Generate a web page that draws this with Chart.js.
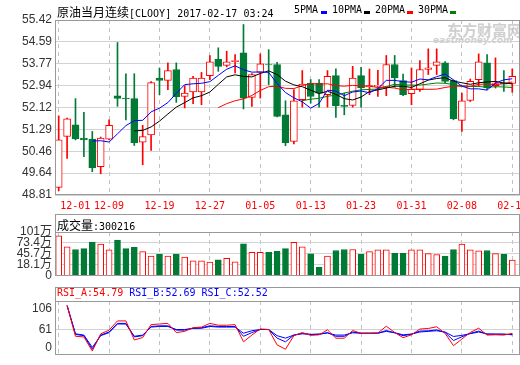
<!DOCTYPE html>
<html>
<head>
<meta charset="utf-8">
<script src="https://cdn.jsdelivr.net/npm/chart.js@4.4.0/dist/chart.umd.min.js"></script>
<style>
body { margin: 0; background: #fff; }
#wrap { position: relative; width: 520px; height: 365px; overflow: hidden; background: #fff; }
canvas { position: absolute; left: 0; }
.t { position: absolute; white-space: pre; line-height: 14px; color: #000; }
.cjk { font: 12px "Noto Sans CJK SC", sans-serif; }
.mono { font: 10px "DejaVu Sans Mono", monospace; }
.box { position: absolute; left: 55px; width: 465px; border: 1px solid #999; border-bottom: none; box-sizing: border-box; }
.mk { position: absolute; width: 6px; height: 3px; top: 11px; }
.wm { position: absolute; color: #cfcfcf; font-weight: bold; white-space: nowrap; }
</style>
</head>
<body>
<div id="wrap">
  <div class="wm" style="left:447px;top:19px;font:bold 15px 'Noto Sans CJK SC';color:#cfcfcf;">东方财富网</div>
  <div class="wm" style="left:433px;top:35px;font:italic bold 9px 'DejaVu Sans';color:#cfcfcf;">eastmoney.com</div>

  <canvas id="main" width="520" height="213" style="top:0"></canvas>
  <canvas id="vol" width="520" height="72" style="top:214px"></canvas>
  <canvas id="rsi" width="520" height="80" style="top:285px"></canvas>

  <div class="t" style="left:57px;top:3px;"><span class="cjk">原油当月连续</span><span class="mono">[CLOOY] 2017-02-17 03:24</span></div>
  <div class="t mono" style="left:294px;top:4px;">5PMA</div><div class="mk" style="left:321px;background:#0000ff"></div>
  <div class="t mono" style="left:332px;top:4px;">10PMA</div><div class="mk" style="left:364px;background:#000"></div>
  <div class="t mono" style="left:375px;top:4px;">20PMA</div><div class="mk" style="left:407px;background:#ff0000"></div>
  <div class="t mono" style="left:418px;top:4px;">30PMA</div><div class="mk" style="left:450px;background:#008000"></div>

  <div class="box" style="top:214px;height:18px;"></div>
  <div class="t" style="left:57px;top:216px;"><span class="cjk">成交量</span><span class="mono">:300216</span></div>

  <div class="box" style="top:287px;height:14px;"></div>
  <div class="t mono" style="left:57px;top:287px;"><span style="color:#ff0000">RSI_A:54.79</span> <span style="color:#0000ff">RSI_B:52.69</span> <span style="color:#0000ff">RSI_C:52.52</span></div>
</div>

<script>
// trading days
const dates = ['12-01','12-02','12-05','12-06','12-07','12-08','12-09','12-12','12-13','12-14',
  '12-15','12-16','12-19','12-20','12-21','12-22','12-23','12-26','12-27','12-28',
  '12-29','12-30','01-03','01-04','01-05','01-06','01-09','01-10','01-11','01-12',
  '01-13','01-16','01-17','01-18','01-19','01-20','01-23','01-24','01-25','01-26',
  '01-27','01-30','01-31','02-01','02-02','02-03','02-06','02-07','02-08','02-09',
  '02-10','02-13','02-14','02-15','02-16'];
const xTicks = [0, 6, 12, 18, 24, 30, 36, 42, 48, 54];

// candles
const opens = [49.10,51.02,51.46,50.96,50.92,49.88,50.92,52.56,52.47,52.45,
  50.81,51.08,53.23,53.14,53.55,52.53,52.70,52.70,53.32,53.93,
  53.70,53.85,54.18,52.50,53.44,53.74,53.74,51.84,50.83,52.41,
  53.04,53.04,52.60,53.32,52.20,52.19,53.32,52.89,52.91,52.88,
  53.74,53.13,52.64,52.79,53.55,53.70,53.80,53.13,51.63,52.38,
  53.17,53.80,52.94,53.04,53.02];
const closes = [50.89,51.69,50.93,50.89,49.84,50.96,51.44,52.46,52.44,50.79,
  51.02,53.06,53.14,53.51,52.51,52.66,53.23,53.23,53.84,53.67,
  53.84,53.89,52.47,53.36,53.76,53.72,51.78,50.79,52.37,53.00,
  52.53,52.66,53.29,52.18,52.16,53.23,52.85,52.94,52.95,53.74,
  53.23,52.60,52.81,53.55,53.61,53.84,53.10,51.69,52.37,53.10,
  53.84,52.85,53.02,53.00,53.29];
const highs = [51.80,51.72,52.45,51.93,51.21,51.00,51.65,54.57,53.39,53.39,
  51.44,53.09,53.61,53.80,53.80,52.94,53.29,53.44,54.08,54.37,
  54.24,54.11,55.25,53.40,54.14,54.30,53.82,52.37,52.79,53.51,
  53.17,53.17,53.51,53.58,52.66,53.67,53.63,53.57,53.52,54.08,
  54.08,53.38,53.61,53.89,54.33,54.33,53.85,53.15,52.66,53.19,
  54.14,54.11,53.99,53.51,53.57];
const lows = [48.97,50.19,50.89,50.26,49.69,49.61,50.90,52.16,51.65,50.68,
  49.95,50.49,52.60,52.79,52.31,52.10,52.26,52.22,53.17,53.48,
  53.65,53.42,52.06,52.16,52.47,52.98,51.76,50.67,50.74,52.13,
  52.28,52.13,52.13,51.74,51.84,52.13,52.13,52.60,52.53,52.56,
  52.88,52.56,52.22,52.72,53.36,53.36,53.04,51.65,51.21,52.34,
  52.91,52.79,52.85,52.72,52.69];

// moving averages
const ma5 = [null,null,null,null,50.85,50.86,50.81,51.12,51.43,51.62,
  51.63,51.95,52.09,52.30,52.65,52.98,53.01,53.03,53.09,53.33,
  53.56,53.69,53.54,53.45,53.46,53.44,53.02,52.68,52.48,52.33,
  52.09,52.27,52.77,52.73,52.56,52.70,52.74,52.67,52.83,53.14,
  53.14,53.09,53.07,53.19,53.16,53.28,53.38,53.16,52.92,52.82,
  52.82,52.77,53.04,53.16,53.20];
const ma10 = [null,null,null,null,null,null,null,null,null,51.23,
  51.25,51.38,51.60,51.87,52.13,52.30,52.48,52.56,52.70,52.99,
  53.27,53.35,53.29,53.27,53.40,53.50,53.36,53.11,52.97,52.90,
  52.77,52.64,52.73,52.61,52.45,52.40,52.51,52.72,52.78,52.85,
  52.92,52.92,52.87,53.01,53.15,53.21,53.24,53.11,53.05,52.99,
  53.05,53.08,53.10,53.04,53.01];
const ma20 = [null,null,null,null,null,null,null,null,null,null,
  null,null,null,null,null,null,null,null,null,52.11,
  52.26,52.37,52.44,52.57,52.76,52.90,52.92,52.84,52.83,52.94,
  53.02,53.00,53.01,52.94,52.92,52.95,52.93,52.92,52.87,52.88,
  52.85,52.78,52.80,52.81,52.80,52.81,52.87,52.92,52.92,52.92,
  52.99,53.00,52.98,53.02,53.08];
const ma30 = [null,null,null,null,null,null,null,null,null,null,
  null,null,null,null,null,null,null,null,null,null,
  null,null,null,null,null,null,null,null,null,52.37,
  52.43,52.46,52.54,52.58,52.66,52.73,52.78,52.80,52.81,52.91,
  52.99,52.97,52.96,52.96,53.00,53.04,53.03,52.98,52.93,52.91,
  52.91,52.88,52.90,52.89,52.87];
const priceTicks = [48.81, 49.64, 50.46, 51.29, 52.12, 52.94, 53.77, 54.59, 55.42];

// volume, in 万
const volumes = [91.5,63.9,56.8,59.2,75.7,70.3,56.1,80.4,59.2,62.2,
  51.4,40.2,45.0,40.2,45.0,37.9,28.4,28.4,25.3,30.8,
  34.8,26.1,71.0,49.7,49.7,49.7,52.1,59.2,75.0,63.9,
  45.7,11.9,40.2,54.4,56.8,56.8,45.0,51.4,56.1,56.1,
  47.3,47.3,56.1,56.1,46.6,44.3,40.2,56.8,70.3,56.1,
  53.7,54.4,46.6,45.0,30.02];
const volTickValues = [-9.4, 18.1, 45.7, 73.4, 101];
const volTickLabels = ['0', '18.1万', '45.7万', '73.4万', '101万'];

// RSI
const rsiA = [null,100,50,49,26,54,60,75,75,44,
  48,69,70,71,56,58,64,65,71,68,
  68,69,41,52,62,61,36,29,51,56,
  51.5,52.4,60.4,46.9,46.9,59.4,54.8,54.8,55.3,66.4,
  56.2,47.8,52.4,61.8,62.7,65.5,54.8,34.7,45.5,56.2,
  63.2,52,52.4,52,54.79];
const rsiB = [null,100,53,51,29,52,57,71,71,49,
  51,66,67,67,60,60,63,64,67,66,
  66,66,50,56,61,61,47,41,52,55,
  53,53,56,50,50,57,55,55,55,59.4,
  55.7,51,53.4,58.5,58.9,60.4,56.2,43.1,49.2,54.8,
  58.5,53.4,53.4,53.4,52.69];
const rsiC = [null,100,54,52,32,51,56,70,70,50,
  52,65,66,66,61,61,63,63,66,65,
  65,65,55,59,61,61,51,47,52,54,
  53,53.8,55.3,52,52,55.7,55,55,55,58,
  55.7,52.4,53.6,57,58,59,57,49.7,51.5,54.3,
  57,53.8,53.6,53.4,52.52];
const rsiTickValues = [31.5, 61, 94.4];
const rsiTickLabels = ['0', '61', '106'];

const RED = '#ff0000', GREEN = '#007a35', BLUE = '#0000ff';
const GRID = '#d2d2d2', DASH = '#c2c2c2', FRAME = '#999999';
const up = opens.map((o, i) => closes[i] >= o);

function pts(arr) {
  return arr.map((v, i) => ({ x: i, y: v })).filter(p => p.y !== null);
}

function lineSet(arr, color, order) {
  return { type: 'line', data: pts(arr), borderColor: color, borderWidth: 1,
    pointRadius: 0, tension: 0, order: order };
}

const frame = {
  id: 'frame',
  afterDraw(chart) {
    const a = chart.chartArea, ctx = chart.ctx;
    ctx.save();
    ctx.strokeStyle = FRAME;
    ctx.lineWidth = 1;
    ctx.strokeRect(Math.round(a.left) + 0.5, Math.round(a.top) + 0.5,
      Math.round(a.right - a.left) - 1, Math.round(a.bottom - a.top) - 1);
    ctx.restore();
  }
};

const xLabels = {
  id: 'xLabels',
  afterDraw(chart) {
    const ctx = chart.ctx, xs = chart.scales.x;
    ctx.save();
    ctx.font = '10px "DejaVu Sans Mono"';
    ctx.fillStyle = RED;
    ctx.textBaseline = 'middle';
    xTicks.forEach((i, n) => {
      const px = xs.getPixelForValue(i);
      ctx.textAlign = n === 0 ? 'left' : 'center';
      ctx.fillText(dates[i], n === 0 ? px + 1.5 : px, 206);
    });
    ctx.restore();
  }
};

function xAxis() {
  return {
    type: 'linear', min: -0.44, max: 54.92, offset: false,
    afterBuildTicks: s => { s.ticks = xTicks.map(v => ({ value: v })); },
    afterFit: s => { s.height = 0; },
    ticks: { display: false },
    grid: { color: DASH, drawTicks: false, offset: false },
    border: { display: false, dash: [4, 4] }
  };
}

function yAxis(min, max, values, labels, gridColor) {
  return {
    min: min, max: max, beginAtZero: false,
    afterBuildTicks: s => { s.ticks = values.map(v => ({ value: v })); },
    afterFit: s => { s.width = 55; },
    ticks: {
      color: '#333', padding: 3, autoSkip: false,
      font: { family: '"Liberation Sans", "Noto Sans CJK SC"', size: 12 },
      callback: (v, i) => labels[i]
    },
    grid: { color: gridColor, drawTicks: false },
    border: { display: false }
  };
}

function baseOptions(padding, yScale) {
  return {
    responsive: false, animation: false, devicePixelRatio: 1,
    layout: { padding: padding },
    plugins: { legend: { display: false }, tooltip: { enabled: false } },
    scales: { x: xAxis(), y: yScale }
  };
}

// price panel
new Chart(document.getElementById('main'), {
  type: 'bar',
  data: {
    datasets: [
      lineSet(ma5, BLUE, 0),
      lineSet(ma10, '#000000', 0),
      lineSet(ma20, RED, 0),
      lineSet(ma30, '#008000', 0),
      {
        data: opens.map((o, i) => ({ x: i, y: [o, closes[i]] })),
        backgroundColor: up.map(u => u ? '#ffffff' : GREEN),
        borderColor: up.map(u => u ? RED : GREEN),
        borderWidth: 1, borderSkipped: false, barThickness: 7, grouped: false, order: 1
      },
      {
        data: lows.map((l, i) => ({ x: i, y: [l, highs[i]] })),
        backgroundColor: up.map(u => u ? RED : GREEN),
        borderWidth: 0, barThickness: 1, grouped: false, order: 2
      }
    ]
  },
  options: baseOptions({ top: 20, right: 0, bottom: 18, left: 0 },
    yAxis(48.81, 55.42, priceTicks, priceTicks.map(v => v.toFixed(2)), GRID)),
  plugins: [frame, xLabels]
});

// volume panel
new Chart(document.getElementById('vol'), {
  type: 'bar',
  data: {
    datasets: [{
      data: volumes.map((v, i) => ({ x: i, y: [volTickValues[0], v] })),
      backgroundColor: up.map(u => u ? '#ffffff' : GREEN),
      borderColor: up.map(u => u ? RED : GREEN),
      borderWidth: 1, borderSkipped: false, barThickness: 6, grouped: false
    }]
  },
  options: baseOptions({ top: 18, right: 0, bottom: 6, left: 0 },
    yAxis(-9.4, 101, volTickValues, volTickLabels, GRID)),
  plugins: [frame]
});

// RSI panel
new Chart(document.getElementById('rsi'), {
  type: 'line',
  data: {
    datasets: [
      lineSet(rsiC, BLUE, 2),
      lineSet(rsiB, BLUE, 1),
      lineSet(rsiA, RED, 0)
    ]
  },
  options: baseOptions({ top: 16, right: 0, bottom: 2, left: 0 },
    yAxis(19.9, 107.4, rsiTickValues, rsiTickLabels,
      c => c.tick && c.tick.value === 61 ? GRID : 'rgba(0,0,0,0)')),
  plugins: [frame]
});
</script>
</body>
</html>
